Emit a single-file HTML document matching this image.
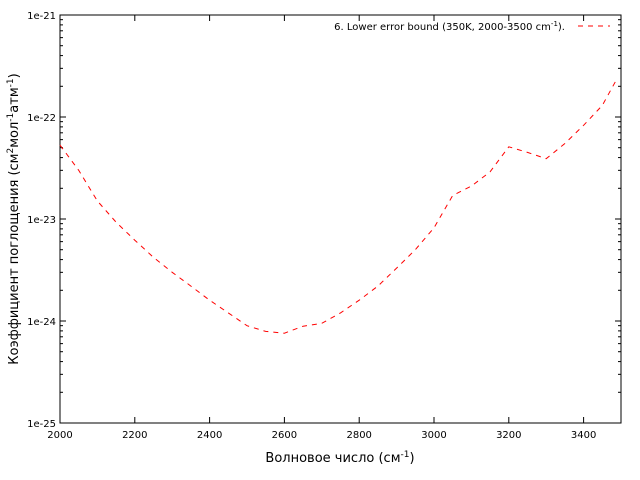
<!DOCTYPE html>
<html><head><meta charset="utf-8"><style>
body{margin:0;background:#fff}
svg{display:block;font-family:"DejaVu Sans","Liberation Sans",sans-serif}
</style></head><body>
<svg id="chart" width="640" height="480" viewBox="0 0 640 480" xmlns="http://www.w3.org/2000/svg">
<rect x="60" y="15" width="561" height="408" fill="none" stroke="#000" stroke-width="1"/>
<g id="ticks"></g>
<path id="series" fill="none" stroke="#f00" stroke-width="1" stroke-dasharray="5,5"/>
<text x="565" y="30" font-size="10" text-anchor="end">6. Lower error bound (350K, 2000-3500 cm<tspan font-size="7" dy="-4">-1</tspan><tspan dy="4">).</tspan></text>
<line x1="578" y1="26" x2="610" y2="26" stroke="#f00" stroke-dasharray="5,5"/>
<text x="340" y="462" font-size="13" text-anchor="middle">Волновое число (см<tspan font-size="9" dy="-5">-1</tspan><tspan dy="5">)</tspan></text>
<text transform="translate(18,219) rotate(-90)" font-size="13" text-anchor="middle">Коэффициент поглощения (см<tspan font-size="9" dy="-5">2</tspan><tspan dy="5">мол</tspan><tspan font-size="9" dy="-5">-1</tspan><tspan dy="5">атм</tspan><tspan font-size="9" dy="-5">-1</tspan><tspan dy="5">)</tspan></text>
</svg>
<script>
const xs=[2000,2050,2100,2150,2200,2250,2300,2350,2400,2450,2500,2550,2600,2650,2700,2750,2800,2850,2900,2950,3000,3050,3100,3150,3200,3250,3300,3350,3400,3450,3490];
const ys=[5.3e-23,3e-23,1.5e-23,9.3e-24,6.2e-24,4.2e-24,3e-24,2.2e-24,1.6e-24,1.2e-24,9e-25,7.9e-25,7.6e-25,8.9e-25,9.5e-25,1.2e-24,1.6e-24,2.2e-24,3.3e-24,5e-24,8.2e-24,1.7e-23,2.1e-23,2.9e-23,5.1e-23,4.5e-23,3.9e-23,5.5e-23,8.3e-23,1.3e-22,2.4e-22];
const xTicks=[2000,2200,2400,2600,2800,3000,3200,3400];
const yDecades=[-25,-24,-23,-22,-21];
const X0=60,X1=621,Y0=423,Y1=15;
const xScale=v=>X0+(v-2000)/1500*(X1-X0);
const yScale=v=>Y0-(Math.log10(v)+25)/4*(Y0-Y1);
const NS="http://www.w3.org/2000/svg";
const g=document.getElementById('ticks');
function line(x1,y1,x2,y2,name){const l=document.createElementNS(NS,'line');l.setAttribute('x1',x1);l.setAttribute('y1',y1);l.setAttribute('x2',x2);l.setAttribute('y2',y2);l.setAttribute('stroke','#000');


g.appendChild(l);}
function text(x,y,s,anchor,name){const t=document.createElementNS(NS,'text');t.setAttribute('x',x);t.setAttribute('y',y);t.setAttribute('font-size','10');t.setAttribute('text-anchor',anchor);t.textContent=s;


g.appendChild(t);}
xTicks.forEach(v=>{const x=xScale(v);line(x,Y0,x,Y0-6,'x-tick');line(x,Y1,x,Y1+6,'x-tick-top');text(x,Y0+15,String(v),'middle','x-tick-label');});
yDecades.forEach(d=>{const y=yScale(Math.pow(10,d));line(X0,y,X0+6,y,'y-tick');line(X1,y,X1-6,y,'y-tick-right');text(X0-4,y+4,'1e'+d,'end','y-tick-label');
if(d<-21){for(let m=2;m<=9;m++){const ym=yScale(m*Math.pow(10,d));line(X0,ym,X0+3,ym,'y-minor-tick');line(X1,ym,X1-3,ym,'y-minor-tick-right');}}});
document.getElementById('series').setAttribute('d',xs.map((v,i)=>(i?'L':'M')+xScale(v).toFixed(1)+','+yScale(ys[i]).toFixed(1)).join(''));
</script>
</body></html>
